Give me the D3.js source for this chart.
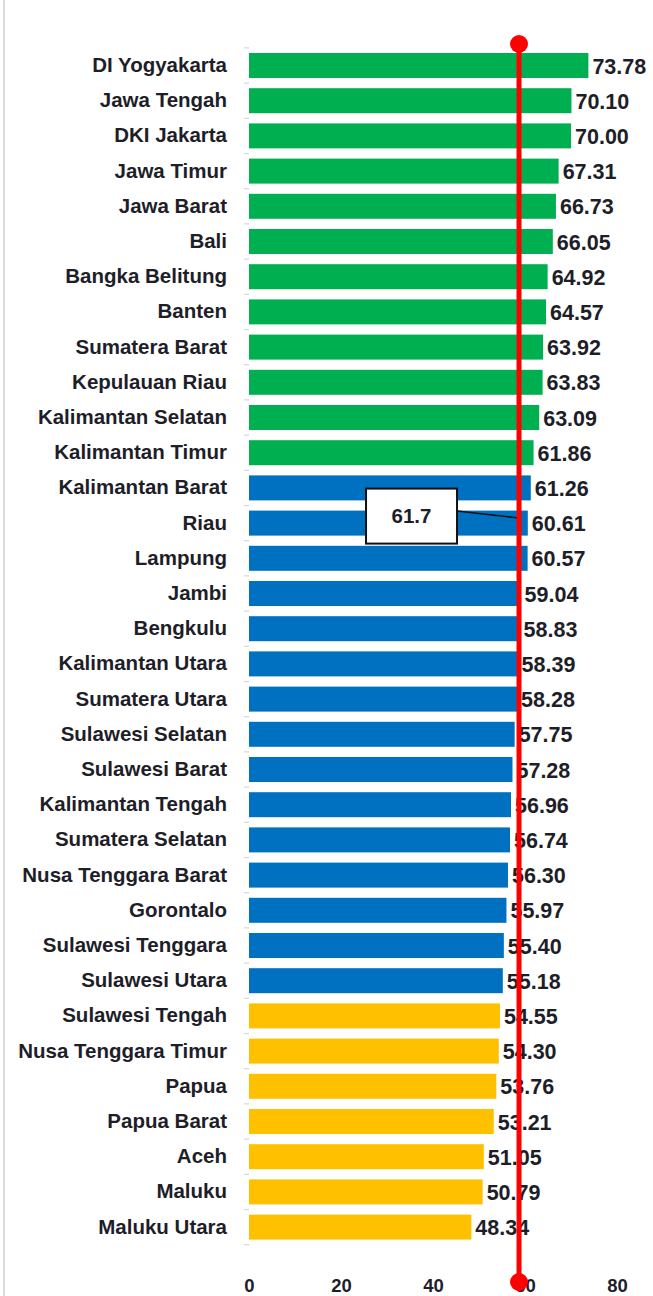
<!DOCTYPE html>
<html>
<head>
<meta charset="utf-8">
<script src="https://cdn.jsdelivr.net/npm/d3@7"></script>
<style>
  html, body { margin: 0; padding: 0; background: #fff; }
  svg { display: block; }
  text { font-family: "Liberation Sans Narrow", "Liberation Sans", Arial, sans-serif; font-weight: bold; fill: #1e1e28; }
</style>
</head>
<body>
<svg id="chart" width="653" height="1296"></svg>
<script>
const provinces = ["DI Yogyakarta","Jawa Tengah","DKI Jakarta","Jawa Timur","Jawa Barat","Bali","Bangka Belitung","Banten","Sumatera Barat","Kepulauan Riau","Kalimantan Selatan","Kalimantan Timur","Kalimantan Barat","Riau","Lampung","Jambi","Bengkulu","Kalimantan Utara","Sumatera Utara","Sulawesi Selatan","Sulawesi Barat","Kalimantan Tengah","Sumatera Selatan","Nusa Tenggara Barat","Gorontalo","Sulawesi Tenggara","Sulawesi Utara","Sulawesi Tengah","Nusa Tenggara Timur","Papua","Papua Barat","Aceh","Maluku","Maluku Utara"];
const values = [73.78,70.10,70.00,67.31,66.73,66.05,64.92,64.57,63.92,63.83,63.09,61.86,61.26,60.61,60.57,59.04,58.83,58.39,58.28,57.75,57.28,56.96,56.74,56.30,55.97,55.40,55.18,54.55,54.30,53.76,53.21,51.05,50.79,48.34];
const groups = ["high","high","high","high","high","high","high","high","high","high","high","high","mid","mid","mid","mid","mid","mid","mid","mid","mid","mid","mid","mid","mid","mid","mid","low","low","low","low","low","low","low"];
const groupColors = {high: "#00B050", mid: "#0070C0", low: "#FFC000"};
const xTicks = [0, 20, 40, 60, 80];
const referenceLabel = "61.7";
const referenceLinePos = 58.7;   // where the marker line is drawn on the axis in the picture
const calloutRow = "Riau";

const svg = d3.select("#chart");
const W = 653, H = 1296;

const x = d3.scaleLinear().domain([0, 80]).range([249, 617]);
const y = d3.scaleBand().domain(provinces).range([47.9, 1244.7]).paddingInner(0.29).paddingOuter(0.145);
const step = y.step();

// left border
svg.append("line").attr("x1", 4).attr("x2", 4).attr("y1", 0).attr("y2", H)
  .attr("stroke", "#cfcfcf").attr("stroke-width", 1.5);

// category boundary ticks
const bounds = provinces.map(p => y(p) - (step - y.bandwidth()) / 2).concat([y(provinces[provinces.length-1]) + y.bandwidth() + (step - y.bandwidth())/2]);
svg.append("g").selectAll("line").data(bounds).join("line")
  .attr("x1", x(0) - 5).attr("x2", x(0)).attr("y1", d => d).attr("y2", d => d)
  .attr("stroke", "#d6d6d6").attr("stroke-width", 1.2);

// y axis labels
const yAxis = svg.append("g").attr("transform", `translate(${x(0)},0)`)
  .call(d3.axisLeft(y).tickSize(0).tickPadding(22));
yAxis.select(".domain").remove();
yAxis.selectAll("text").attr("font-size", 20.5).attr("fill", "#1e1e28")
  .attr("font-family", '"Liberation Sans Narrow", "Liberation Sans", Arial, sans-serif').attr("font-weight", "bold");

// bars
const data = provinces.map((p, i) => ({p, v: values[i], g: groups[i]}));
svg.append("g").selectAll("rect").data(data).join("rect")
  .attr("x", x(0)).attr("y", d => y(d.p))
  .attr("width", d => x(d.v) - x(0)).attr("height", y.bandwidth())
  .attr("fill", d => groupColors[d.g]);

// value labels
svg.append("g").selectAll("text").data(data).join("text")
  .attr("x", d => x(d.v) + 4).attr("y", d => y(d.p) + y.bandwidth() / 2)
  .attr("dy", "0.38em").attr("font-size", 21.5)
  .text(d => d.v.toFixed(2));

// x axis
const xAxis = svg.append("g").attr("transform", `translate(0,1276)`)
  .call(d3.axisBottom(x).tickValues(xTicks).tickSize(0).tickPadding(3));
xAxis.select(".domain").remove();
xAxis.selectAll("text").attr("font-size", 18.5).attr("fill", "#1e1e28")
  .attr("font-family", '"Liberation Sans Narrow", "Liberation Sans", Arial, sans-serif').attr("font-weight", "bold");

// callout
const lx = x(referenceLinePos);
const cy = y(calloutRow) + y.bandwidth() / 2;
const boxW = 91, boxH = 55;
const boxX = lx - 62 - boxW, boxY = cy - 7 - boxH / 2;
svg.append("line").attr("x1", boxX + boxW).attr("y1", cy - 12).attr("x2", lx).attr("y2", cy - 5)
  .attr("stroke", "#111").attr("stroke-width", 1.5);
svg.append("rect").attr("x", boxX).attr("y", boxY).attr("width", boxW).attr("height", boxH)
  .attr("fill", "#fff").attr("stroke", "#111").attr("stroke-width", 2);
svg.append("text").attr("x", boxX + boxW / 2).attr("y", boxY + boxH / 2).attr("dy", "0.36em")
  .attr("text-anchor", "middle").attr("font-size", 20.5).text(referenceLabel);

// reference line
svg.append("line").attr("x1", lx).attr("x2", lx).attr("y1", 44).attr("y2", 1282)
  .attr("stroke", "#FF0000").attr("stroke-width", 5);
svg.append("g").selectAll("circle").data([44, 1282]).join("circle")
  .attr("cx", lx).attr("cy", d => d).attr("r", 9).attr("fill", "#FF0000");
</script>
</body>
</html>
